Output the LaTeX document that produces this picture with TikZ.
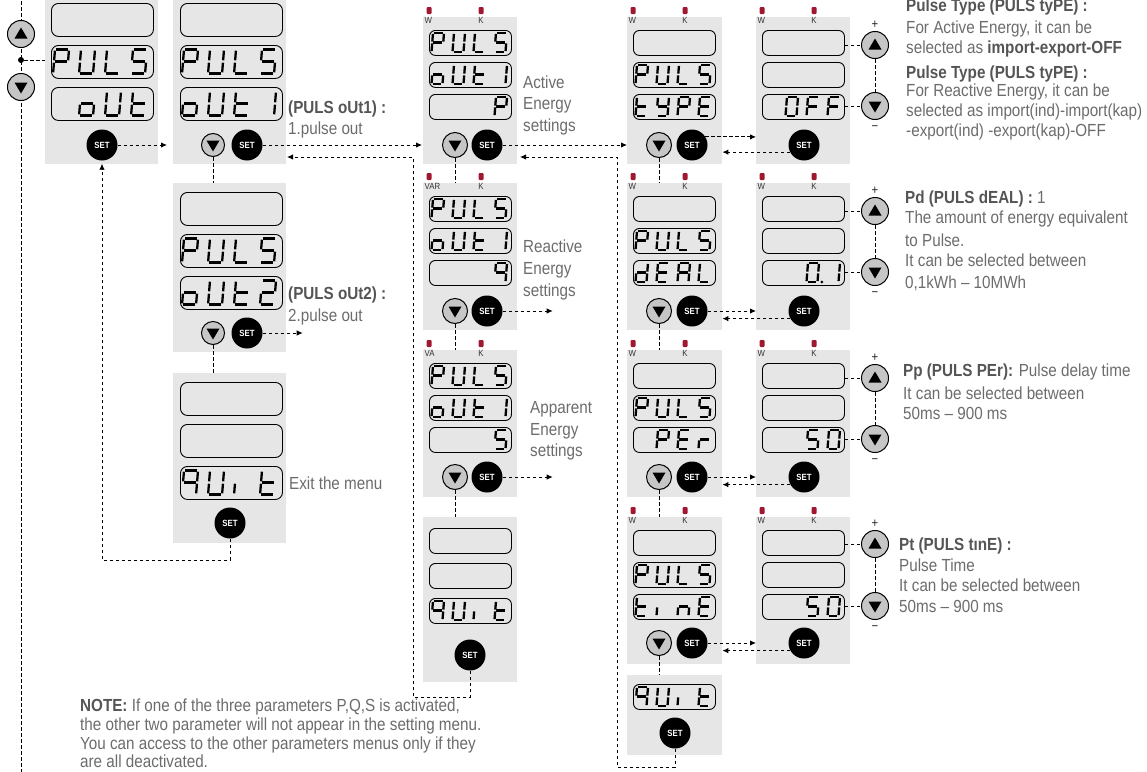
\documentclass[tikz,border=0pt]{standalone}
\usepackage{fontspec}
\setmainfont{Liberation Sans}[FakeStretch=0.87]
\usetikzlibrary{arrows.meta}
\definecolor{pnl}{HTML}{E6E6E6}
\definecolor{txg}{HTML}{6C6C6C}
\definecolor{txb}{HTML}{555555}
\definecolor{ledr}{HTML}{A01830}
\definecolor{btng}{HTML}{C6C6C6}
\tikzset{
  panel/.style={rectangle, fill=pnl, inner sep=0pt, anchor=north west},
  bdisp/.style={rectangle, draw=black, line width=0.9pt, rounded corners=7pt, minimum width=102pt, minimum height=33pt, inner sep=0pt, anchor=north west},
  sdisp/.style={rectangle, draw=black, line width=0.9pt, rounded corners=6pt, minimum width=82pt, minimum height=25pt, inner sep=0pt, anchor=north west},
  sg/.style={line width=2.3pt},
  setb/.style={circle, fill=black, minimum size=31pt, inner sep=0pt, text=white, font=\fontsize{9}{9}\selectfont\bfseries},
  rbtn/.style={circle, fill=btng, draw=black, line width=1pt, minimum size=#1, inner sep=0pt},
  conn/.style={line width=0.9pt, dash pattern=on 3.5pt off 2.5pt},
  arr/.style={-{Latex[length=6pt,width=5.5pt]}},
  led/.style={rectangle, fill=ledr, rounded corners=1pt, minimum width=5pt, minimum height=7pt, inner sep=0pt},
  ledl/.style={font=\fontsize{9}{9}\selectfont, text=black!80, inner sep=0pt},
  lbl/.style={font=\fontsize{17.5}{20}\selectfont, text=txg, inner sep=0pt, anchor=base west},
  pm/.style={font=\fontsize{13}{13}\selectfont, text=black!85, inner sep=0pt},
}
% seven segment pieces
\def\SGa{\draw[sg] (0.1,0)--(0.9,0);}
\def\SGb{\draw[sg] (1,0.05)--(1,0.45);}
\def\SGc{\draw[sg] (1,0.55)--(1,0.95);}
\def\SGd{\draw[sg] (0.1,1)--(0.9,1);}
\def\SGe{\draw[sg] (0,0.55)--(0,0.95);}
\def\SGf{\draw[sg] (0,0.05)--(0,0.45);}
\def\SGg{\draw[sg] (0.1,0.5)--(0.9,0.5);}
\def\SGp{\fill (1.4,1) circle (1.5pt);}
\def\KsP{a,b,e,f,g}
\def\KsU{b,c,d,e,f}
\def\KsL{d,e,f}
\def\KsS{a,c,d,f,g}
\def\Kso{c,d,e,g}
\def\Kst{d,e,f,g}
\def\KsT{b,c}
\def\KsW{a,b,d,e,g}
\def\KsQ{a,b,c,f,g}
\def\Ksi{e}
\def\KsE{a,d,e,f,g}
\def\KsY{b,c,d,f,g}
\def\Ksd{b,c,d,e,g}
\def\KsA{a,b,c,e,f,g}
\def\Ksr{e,g}
\def\Ksn{c,e,g}
\def\KsO{a,b,c,d,e,f}
\def\KsF{a,e,f,g}
\def\KsZ{a,b,c,d,e,f,p}
\def\Ksx{}
\newcommand\segtxt[6]{%
  \foreach \c [count=\i from 0] in {#6}{%
    \begin{scope}[shift={({#1+\i*#5},{#2})},x=#3pt,y=-#4pt,xslant=0.08]
      \edef\seglist{\csname Ks\c\endcsname}%
      \ifx\seglist\empty\else
        \foreach \s in \seglist {\csname SG\s\endcsname}%
      \fi
    \end{scope}}}
\newcommand\bd[4]{\node[bdisp] (#1) at (#2,#3) {};\segtxt{#2+4}{#3+4.5}{14}{24}{26}{#4}}
\newcommand\sd[4]{\node[sdisp] (#1) at (#2,#3) {};\segtxt{#2+4}{#3+3}{11}{19}{21}{#4}}
\newcommand\dnbtn[4]{\node[rbtn=#4] (#1) at (#2,#3) {};
  \fill ([xshift=-6.5pt,yshift=4.5pt]#1.center) -- ([xshift=6.5pt,yshift=4.5pt]#1.center) -- ([yshift=-6.5pt]#1.center) -- cycle;}
\newcommand\upbtn[4]{\node[rbtn=#4] (#1) at (#2,#3) {};
  \fill ([xshift=-6.5pt,yshift=-4.5pt]#1.center) -- ([xshift=6.5pt,yshift=-4.5pt]#1.center) -- ([yshift=6.5pt]#1.center) -- cycle;}
\newcommand\leds[5]{\node[led] (#1w) at (#2+6,#3-6.5) {};\node[led] (#1k) at (#2+58,#3-6.5) {};
  \node[ledl,anchor=west] (#1wl) at (#2+1.5,#3+3.5) {#4};\node[ledl] (#1kl) at (#2+58,#3+3.5) {#5};}
\begin{document}
\begin{tikzpicture}[x=1pt,y=-1pt]
\useasboundingbox (0,0) rectangle (1147,771);
% left control line
\draw[conn] (21,-5) -- (21,776);
\node[circle, fill=black, minimum size=6pt, inner sep=0pt] (dot) at (21,60) {};
\upbtn{lup}{21}{34}{27pt}
\dnbtn{ldn}{21}{87}{27pt}
% ---------- column A
\node[panel, minimum width=113pt, minimum height=170pt] (pA) at (45,-6) {};
\draw[conn] (dot) -- (dot -| pA.west);
\bd{dA1}{51}{3}{x}
\bd{dA2}{51}{45}{P,U,L,S}
\bd{dA3}{51}{87}{x,o,U,t}
\node[setb] (sA) at (102,145) {SET};
% ---------- column B
\node[panel, minimum width=113pt, minimum height=170pt] (pB1) at (173,-6) {};
\bd{dB11}{180}{3}{x}
\bd{dB12}{180}{45}{P,U,L,S}
\bd{dB13}{180}{87}{o,U,t,T}
\dnbtn{nB1}{213}{145}{23pt}
\node[setb] (sB1) at (247,145) {SET};
\node[panel, minimum width=113pt, minimum height=169pt] (pB2) at (173,183) {};
\bd{dB21}{180}{192}{x}
\bd{dB22}{180}{234}{P,U,L,S}
\bd{dB23}{180}{276}{o,U,t,W}
\dnbtn{nB2}{213}{333}{23pt}
\node[setb] (sB2) at (247,333) {SET};
\node[panel, minimum width=113pt, minimum height=170pt] (pB3) at (173,373) {};
\bd{dB31}{180}{382}{x}
\bd{dB32}{180}{424}{x}
\bd{dB33}{180}{466}{Q,U,i,t}
\node[setb] (sB3) at (230,523) {SET};
\node[lbl] (tB1a) at (288,113) {\bfseries\color{txb}(PULS oUt1) :};
\node[lbl] (tB1b) at (288,134) {1.pulse out};
\node[lbl] (tB2a) at (288,299) {\bfseries\color{txb}(PULS oUt2) :};
\node[lbl] (tB2b) at (288,321) {2.pulse out};
\node[lbl] (tB3) at (289,489) {Exit the menu};
% ---------- column C
\node[panel, minimum width=94pt, minimum height=147pt] (pC1) at (423,17) {};
\leds{lC1}{423}{17}{W}{K}
\sd{dC11}{429}{30}{P,U,L,S}
\sd{dC12}{429}{62}{o,U,t,T}
\sd{dC13}{429}{94}{x,x,x,P}
\dnbtn{nC1}{455}{145}{25pt}
\node[setb] (sC1) at (487,145) {SET};
\node[panel, minimum width=94pt, minimum height=147pt] (pC2) at (423,183) {};
\leds{lC2}{423}{183}{VAR}{K}
\sd{dC21}{429}{196}{P,U,L,S}
\sd{dC22}{429}{228}{o,U,t,T}
\sd{dC23}{429}{260}{x,x,x,Q}
\dnbtn{nC2}{455}{311}{25pt}
\node[setb] (sC2) at (487,311) {SET};
\node[panel, minimum width=94pt, minimum height=147pt] (pC3) at (423,350) {};
\leds{lC3}{423}{350}{VA}{K}
\sd{dC31}{429}{363}{P,U,L,S}
\sd{dC32}{429}{395}{o,U,t,T}
\sd{dC33}{429}{427}{x,x,x,S}
\dnbtn{nC3}{455}{477}{25pt}
\node[setb] (sC3) at (487,477) {SET};
\node[panel, minimum width=94pt, minimum height=165pt] (pCq) at (423,517) {};
\sd{dCq1}{429}{528}{x}
\sd{dCq2}{429}{563}{x}
\sd{dCq3}{429}{598}{Q,U,i,t}
\node[setb] (sCq) at (470,655) {SET};
\node[lbl] (tC1a) at (523,88) {Active};
\node[lbl] (tC1b) at (523,109) {Energy};
\node[lbl] (tC1c) at (523,131) {settings};
\node[lbl] (tC2a) at (523,252) {Reactive};
\node[lbl] (tC2b) at (523,274) {Energy};
\node[lbl] (tC2c) at (523,296) {settings};
\node[lbl] (tC3a) at (530,413) {Apparent};
\node[lbl] (tC3b) at (530,435) {Energy};
\node[lbl] (tC3c) at (530,456) {settings};
% ---------- column D
\node[panel, minimum width=95pt, minimum height=147pt] (pD1) at (627,17) {};
\leds{lD1}{627}{17}{W}{K}
\sd{dD11}{633}{30}{x}
\sd{dD12}{633}{62}{P,U,L,S}
\sd{dD13}{633}{94}{t,Y,P,E}
\dnbtn{nD1}{659}{145}{25pt}
\node[setb] (sD1) at (692,145) {SET};
\node[panel, minimum width=95pt, minimum height=147pt] (pD2) at (627,183) {};
\leds{lD2}{627}{183}{W}{K}
\sd{dD21}{633}{196}{x}
\sd{dD22}{633}{228}{P,U,L,S}
\sd{dD23}{633}{260}{d,E,A,L}
\dnbtn{nD2}{659}{311}{25pt}
\node[setb] (sD2) at (692,311) {SET};
\node[panel, minimum width=95pt, minimum height=147pt] (pD3) at (627,350) {};
\leds{lD3}{627}{350}{W}{K}
\sd{dD31}{633}{363}{x}
\sd{dD32}{633}{395}{P,U,L,S}
\sd{dD33}{633}{427}{x,P,E,r}
\dnbtn{nD3}{659}{477}{25pt}
\node[setb] (sD3) at (692,477) {SET};
\node[panel, minimum width=95pt, minimum height=147pt] (pD4) at (627,517) {};
\leds{lD4}{627}{517}{W}{K}
\sd{dD41}{633}{530}{x}
\sd{dD42}{633}{562}{P,U,L,S}
\sd{dD43}{633}{594}{t,i,n,E}
\dnbtn{nD4}{659}{643}{25pt}
\node[setb] (sD4) at (692,643) {SET};
\node[panel, minimum width=95pt, minimum height=80pt] (pDq) at (627,675) {};
\sd{dDq}{633}{684}{Q,U,i,t}
\node[setb] (sDq) at (675,733) {SET};
% ---------- column E
\node[panel, minimum width=94pt, minimum height=147pt] (pE1) at (756,17) {};
\leds{lE1}{756}{17}{W}{K}
\sd{dE11}{762}{30}{x}
\sd{dE12}{762}{62}{x}
\sd{dE13}{762}{94}{x,O,F,F}
\node[setb] (sE1) at (804,145) {SET};
\node[panel, minimum width=94pt, minimum height=147pt] (pE2) at (756,183) {};
\leds{lE2}{756}{183}{W}{K}
\sd{dE21}{762}{196}{x}
\sd{dE22}{762}{228}{x}
\sd{dE23}{762}{260}{x,x,Z,T}
\node[setb] (sE2) at (804,311) {SET};
\node[panel, minimum width=94pt, minimum height=147pt] (pE3) at (756,350) {};
\leds{lE3}{756}{350}{W}{K}
\sd{dE31}{762}{363}{x}
\sd{dE32}{762}{395}{x}
\sd{dE33}{762}{427}{x,x,S,O}
\node[setb] (sE3) at (804,477) {SET};
\node[panel, minimum width=94pt, minimum height=147pt] (pE4) at (756,517) {};
\leds{lE4}{756}{517}{W}{K}
\sd{dE41}{762}{530}{x}
\sd{dE42}{762}{562}{x}
\sd{dE43}{762}{594}{x,x,S,O}
\node[setb] (sE4) at (804,643) {SET};
% ---------- right buttons
\foreach \k/\yu/\yd in {1/45/106, 2/211/272, 3/378/439, 4/544/606}{
  \upbtn{uE\k}{875}{\yu}{27pt}
  \dnbtn{wE\k}{875}{\yd}{27pt}
  \draw[conn] (dE\k1.east |- uE\k.west) -- (uE\k.west);
  \draw[conn] (dE\k3.east |- wE\k.west) -- (wE\k.west);
  \draw[conn] (uE\k.south) -- (wE\k.north);
  \node[pm] (plus\k) at (875,\yu-20) {+};
  \node[pm] (minus\k) at (875,\yd+22) {−};
}
% ---------- connectors
\draw[conn,arr] (sA.east) -- ([xshift=-6pt]sA.east -| pB1.west);
\draw[conn,arr] (sB1.east) -- ([xshift=-1pt]sB1.east -| pC1.west);
\coordinate (cA) at (413,697);
\coordinate (cB) at (287,157);
\draw[conn,arr] (sCq.south) |- (cA) |- (cB);
\draw[conn,arr] (sB2.east) -- ++(40,0);
\coordinate (cC) at (102,560);
\draw[conn,arr] (sB3.south) |- (cC) -- ([yshift=-3pt]sA.south);
\draw[conn,arr] (sC1.east) -- (sC1.east -| pD1.west);
\coordinate (cD) at (617,767);
\coordinate (cE) at (520,157);
\draw[conn,arr] (sDq.south) |- (cD) |- (cE);
\draw[conn,arr] (sC2.east) -- ++(50,0);
\draw[conn,arr] (sC3.east) -- ++(50,0);
\draw[conn,arr] (sD1.31) -- (sD1.31 -| pE1.west);
\draw[conn,arr] (sE1.207) -- (sE1.207 -| pD1.east);
\foreach \k in {2,3,4}{
  \draw[conn,arr] (sD\k.east) -- (sD\k.east -| pE\k.west);
  \draw[conn,arr] (sE\k.209) -- (sE\k.209 -| pD\k.east);
}
\draw[conn] (nB1.south) -- (nB1.south |- pB2.north);
\draw[conn] (nB2.south) -- (nB2.south |- pB3.north);
\draw[conn] (nC1.south) -- (nC1.south |- pC2.north);
\draw[conn] (nC2.south) -- (nC2.south |- pC3.north);
\draw[conn] (nC3.south) -- (nC3.south |- pCq.north);
\draw[conn] (nD1.south) -- (nD1.south |- pD2.north);
\draw[conn] (nD2.south) -- (nD2.south |- pD3.north);
\draw[conn] (nD3.south) -- (nD3.south |- pD4.north);
\draw[conn] (nD4.south) -- (nD4.south |- pDq.north);
% ---------- right texts
\node[lbl] (r1a) at (906,12) {\bfseries\color{txb}Pulse Type (PULS tyPE) :};
\node[lbl] (r1b) at (906,33) {For Active Energy, it can be};
\node[lbl] (r1c) at (906,53) {selected as {\bfseries\color{txb}import-export-OFF}};
\node[lbl] (r1d) at (906,78) {\bfseries\color{txb}Pulse Type (PULS tyPE) :};
\node[lbl] (r1e) at (906,96) {For Reactive Energy, it can be};
\node[lbl] (r1f) at (906,116) {selected as import(ind)-import(kap)};
\node[lbl] (r1g) at (906,136) {-export(ind) -export(kap)-OFF};
\node[lbl] (r2a) at (905,203) {{\bfseries\color{txb}Pd (PULS dEAL) :} 1};
\node[lbl] (r2b) at (905,223) {The amount of energy equivalent};
\node[lbl] (r2c) at (905,246) {to Pulse.};
\node[lbl] (r2d) at (905,266) {It can be selected between};
\node[lbl] (r2e) at (905,288) {0,1kWh – 10MWh};
\node[lbl] (r3a) at (903,376) {{\bfseries\color{txb}Pp (PULS PEr):} Pulse delay time};
\node[lbl] (r3b) at (903,399) {It can be selected between};
\node[lbl] (r3c) at (903,419) {50ms – 900 ms};
\node[lbl] (r4a) at (899,550) {\bfseries\color{txb}Pt (PULS tınE) :};
\node[lbl] (r4b) at (899,571) {Pulse Time};
\node[lbl] (r4c) at (899,591) {It can be selected between};
\node[lbl] (r4d) at (899,612) {50ms – 900 ms};
% ---------- note
\node[lbl] (n1) at (80,711) {{\bfseries\color{txb}NOTE:} If one of the three parameters P,Q,S is activated,};
\node[lbl] (n2) at (80,730) {the other two parameter will not appear in the setting menu.};
\node[lbl] (n3) at (80,749) {You can access to the other parameters menus only if they};
\node[lbl] (n4) at (80,767) {are all deactivated.};
\end{tikzpicture}
\end{document}
